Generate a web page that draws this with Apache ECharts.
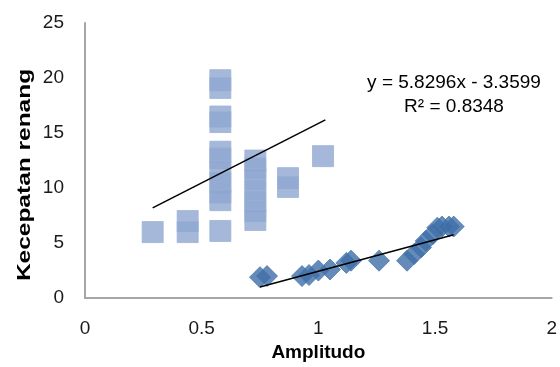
<!DOCTYPE html>
<html>
<head>
<meta charset="utf-8">
<script src="https://cdn.jsdelivr.net/npm/echarts@6/dist/echarts.min.js"></script>
<style>
html,body{margin:0;padding:0;background:#fff;}
#chart{width:560px;height:367px;}
</style>
</head>
<body>
<div id="chart"></div>
<script>
// Light-blue square series
var squareX = [0.29, 0.44, 0.44, 0.58, 0.58, 0.58, 0.58, 0.58, 0.58, 0.58, 0.58, 0.58, 0.58, 0.58, 0.73, 0.73, 0.73, 0.73, 0.73, 0.73, 0.73, 0.87, 0.87, 1.02];
var squareY = [6.0, 7.0, 6.0, 19.8, 19.1, 16.5, 16.0, 13.3, 12.7, 11.5, 10.5, 9.6, 8.9, 6.1, 12.5, 11.8, 10.8, 9.8, 8.8, 7.9, 7.1, 10.9, 10.1, 12.9];
// Dark-blue diamond series
var diamondX = [0.75, 0.78, 0.93, 0.96, 1.00, 1.05, 1.12, 1.14, 1.26, 1.38, 1.41, 1.44, 1.46, 1.49, 1.51, 1.53, 1.56, 1.58];
var diamondY = [1.9, 2.0, 2.0, 2.1, 2.5, 2.6, 3.2, 3.4, 3.4, 3.4, 4.0, 4.6, 5.2, 5.8, 6.4, 6.5, 6.5, 6.5];
// Trend line end points
var squareTrendX = [0.29, 1.03];
var squareTrendY = [8.2, 16.2];
var diamondTrendX = [0.75, 1.58];
var diamondTrendY = [1.0, 5.75];
// Axis ticks
var xTicks = [0, 0.5, 1, 1.5, 2];
var yTicks = [0, 5, 10, 15, 20, 25];
var equationLines = ['y = 5.8296x - 3.3599', 'R\u00b2 = 0.8348'];
var xTitle = 'Amplitudo';
var yTitle = 'Kecepatan renang';

function pairs(xs, ys) { return xs.map(function (x, i) { return [x, ys[i]]; }); }

var FONT = '"Liberation Sans", Arial, sans-serif';
var chart = echarts.init(document.getElementById('chart'), null, {renderer: 'canvas'});
chart.setOption({
  backgroundColor: '#ffffff',
  animation: false,
  grid: {left: 85, right: 7, top: 23, bottom: 66, containLabel: false},
  xAxis: {
    type: 'value', min: xTicks[0], max: xTicks[xTicks.length - 1], interval: 0.5,
    axisLine: {show: true, onZero: false, lineStyle: {color: '#a6a6a6', width: 2}},
    axisTick: {show: false},
    splitLine: {show: false},
    axisLabel: {fontFamily: FONT, fontSize: 19, color: '#1a1a1a', margin: 21},
    name: xTitle, nameLocation: 'middle', nameGap: 42,
    nameTextStyle: {fontFamily: FONT, fontSize: 19, fontWeight: 'bold', color: '#000'}
  },
  yAxis: {
    type: 'value', min: yTicks[0], max: yTicks[yTicks.length - 1], interval: 5,
    axisLine: {show: true, lineStyle: {color: '#a6a6a6', width: 2}},
    axisTick: {show: false},
    splitLine: {show: false},
    axisLabel: {fontFamily: FONT, fontSize: 19, color: '#1a1a1a', margin: 21}
  },
  graphic: [
    {
      type: 'text', x: 25, y: 175, rotation: Math.PI / 2, scaleX: 1.36,
      style: {text: yTitle, fontFamily: FONT, fontSize: 18, fontWeight: 'bold', fill: '#000', align: 'center', verticalAlign: 'middle'}
    },
    {
      type: 'text', x: 454, y: 95,
      style: {text: equationLines.join('\n'), fontFamily: FONT, fontSize: 19, lineHeight: 24, fill: '#000', align: 'center', verticalAlign: 'middle'}
    }
  ],
  series: [
    {
      type: 'scatter', data: pairs(squareX, squareY), symbol: 'rect', symbolSize: 21,
      itemStyle: {color: '#8ea6cf', borderColor: '#9bb1d6', borderWidth: 1}, z: 2
    },
    {
      type: 'scatter', data: pairs(diamondX, diamondY), symbol: 'diamond', symbolSize: 21,
      itemStyle: {color: '#3f6ea8', borderColor: '#4a77ae', borderWidth: 1}, z: 3
    },
    {
      type: 'line', data: pairs(squareTrendX, squareTrendY), symbol: 'none',
      lineStyle: {color: '#000', width: 1.5}, z: 5, silent: true
    },
    {
      type: 'line', data: pairs(diamondTrendX, diamondTrendY), symbol: 'none',
      lineStyle: {color: '#000', width: 1.5}, z: 5, silent: true
    }
  ]
});
</script>
</body>
</html>
